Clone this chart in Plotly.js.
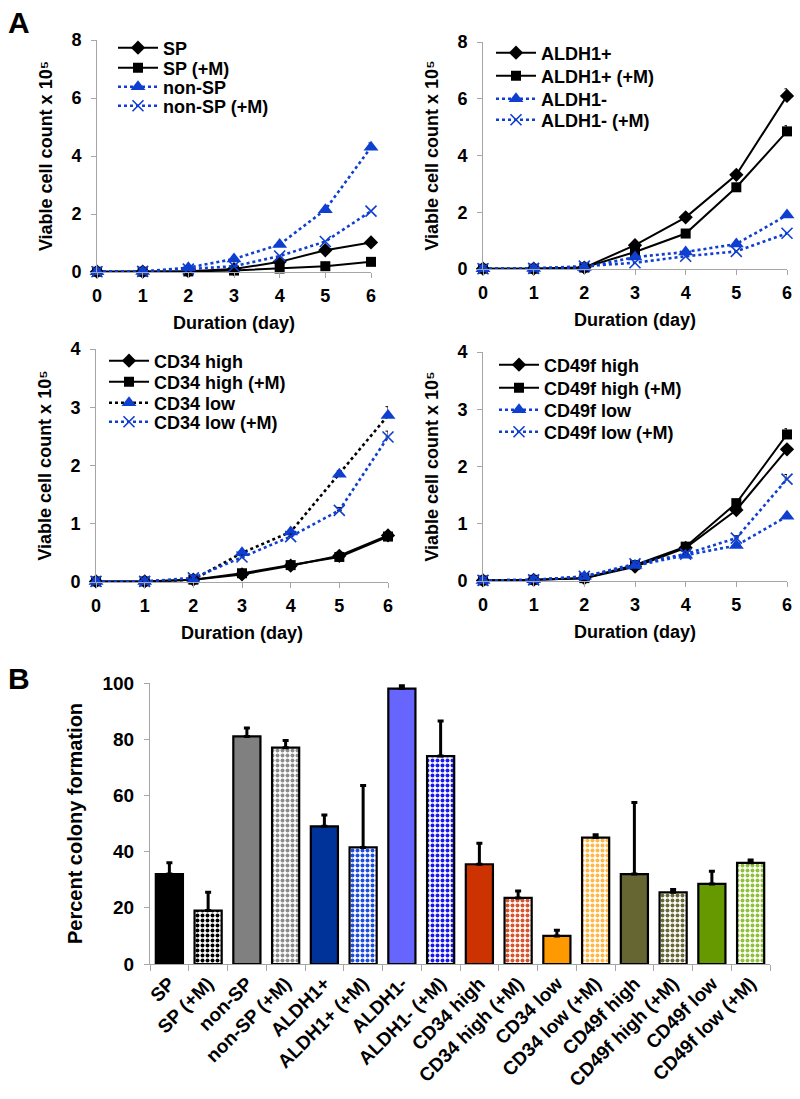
<!DOCTYPE html>
<html>
<head>
<meta charset="utf-8">
<script src="https://cdn.plot.ly/plotly-3.0.1.min.js"></script>
<style>html,body{margin:0;padding:0;background:#fff;}#chart{width:800px;height:1099px;}</style>
</head>
<body>
<div id="chart"></div>
<script>
// ---------- data ----------
const days = [0, 1, 2, 3, 4, 5, 6];

// Panel A1
const SP        = [0.01, 0.01, 0.03, 0.10, 0.35, 0.75, 1.02];
const SP_M      = [0.01, 0.01, 0.02, 0.05, 0.12, 0.20, 0.35];
const nonSP     = [0.01, 0.02, 0.15, 0.45, 0.95, 2.15, 4.30];
const nonSP_M   = [0.01, 0.02, 0.10, 0.20, 0.55, 1.05, 2.10];
const nonSP_err = [0, 0, 0, 0, 0.03, 0.05, 0.15];

// Panel A2
const ALDH1p      = [0.01, 0.01, 0.05, 0.84, 1.82, 3.32, 6.10];
const ALDH1p_M    = [0.01, 0.01, 0.05, 0.60, 1.25, 2.88, 4.85];
const ALDH1n      = [0.01, 0.02, 0.05, 0.42, 0.60, 0.88, 1.90];
const ALDH1n_M    = [0.01, 0.02, 0.10, 0.22, 0.45, 0.62, 1.26];
const ALDH1p_err  = [0, 0, 0, 0.03, 0.05, 0.08, 0.25];
const ALDH1pM_err = [0, 0, 0, 0.03, 0.05, 0.08, 0.20];

// Panel A3
const CD34h      = [0.01, 0.01, 0.04, 0.13, 0.28, 0.45, 0.80];
const CD34h_M    = [0.01, 0.01, 0.04, 0.15, 0.29, 0.43, 0.78];
const CD34l      = [0.01, 0.01, 0.04, 0.50, 0.86, 1.85, 2.86];
const CD34l_M    = [0.01, 0.01, 0.07, 0.43, 0.78, 1.23, 2.49];
const CD34l_err  = [0, 0, 0, 0.03, 0.04, 0.06, 0.15];
const CD34lM_err = [0, 0, 0, 0.03, 0.04, 0.05, 0.10];

// Panel A4
const CD49h      = [0.01, 0.02, 0.05, 0.25, 0.58, 1.24, 2.30];
const CD49h_M    = [0.01, 0.02, 0.05, 0.28, 0.60, 1.36, 2.56];
const CD49l      = [0.01, 0.02, 0.08, 0.27, 0.45, 0.62, 1.13];
const CD49l_M    = [0.01, 0.02, 0.08, 0.30, 0.47, 0.75, 1.78];
const CD49hM_err = [0, 0, 0, 0.02, 0.03, 0.05, 0.10];
const CD49lM_err = [0, 0, 0, 0.02, 0.03, 0.04, 0.08];

// Panel B
const barCats = ['SP', 'SP (+M)', 'non-SP', 'non-SP (+M)', 'ALDH1+', 'ALDH1+ (+M)', 'ALDH1-', 'ALDH1- (+M)',
                 'CD34 high', 'CD34 high (+M)', 'CD34 low', 'CD34 low (+M)', 'CD49f high', 'CD49f high (+M)',
                 'CD49f low', 'CD49f low (+M)'];
const barVals = [32, 19, 81, 77, 49, 41.5, 98, 74, 35.5, 23.5, 10, 45, 32, 25.5, 28.5, 36];
const barErrs = [4, 6.5, 3, 2.5, 4, 22, 1, 12.5, 7.5, 2.5, 2, 1, 25.5, 1, 4.5, 1];
const barColors = ['#000000', '#000000', '#808080', '#8c8c8c', '#003399', '#1f4fe0', '#6666ff', '#1a1aee',
                   '#cc3300', '#d9532c', '#ff9900', '#ffb848', '#666633', '#6b6b3a', '#669900', '#8fc13a'];
const barChecked = [false, true, false, true, false, true, false, true, false, true, false, true, false, true, false, true];

// ---------- styles ----------
const FF = 'Liberation Sans, Arial, sans-serif';
const BLUE = '#0f3fd0';
const W = 800, H = 1099;
const xd = (a, b) => [a / W, b / W];
const yd = (top, bottom) => [1 - bottom / H, 1 - top / H];

function line(x, y, name, opts) {
  const t = {
    x: x, y: y, name: name, type: 'scatter', mode: 'lines+markers', cliponaxis: false,
    xaxis: opts.xa, yaxis: opts.ya, legend: opts.lg,
    line: {color: opts.lc, width: opts.dash ? 2.6 : 2, dash: opts.dash ? 'dot' : 'solid'},
    marker: {symbol: opts.sym, size: opts.size, color: opts.mc,
             line: {color: opts.mc, width: opts.sym === 'x-thin' ? 1.6 : 0}}
  };
  if (opts.err) {
    t.error_y = {type: 'data', array: opts.err, symmetric: false, arrayminus: opts.err.map(() => 0),
                 color: '#000', thickness: 1, width: 2.5};
  }
  return t;
}
const base = {
  diamond: {lc: '#000', mc: '#000', sym: 'diamond', size: 11},
  square:  {lc: '#000', mc: '#000', sym: 'square', size: 10},
  tri:     {lc: BLUE, mc: BLUE, sym: 'triangle-up', size: 13, dash: true},
  cross:   {lc: BLUE, mc: BLUE, sym: 'x-thin', size: 11, dash: true}
};
let legN = 0;
function st(kind, xa, ya, extra) {
  legN += 1;
  return Object.assign({}, base[kind], {xa: xa, ya: ya, lg: legN === 1 ? 'legend' : 'legend' + legN}, extra || {});
}

const traces = [
  line(days, SP, 'SP', st('diamond', 'x', 'y')),
  line(days, SP_M, 'SP (+M)', st('square', 'x', 'y')),
  line(days, nonSP, 'non-SP', st('tri', 'x', 'y', {err: nonSP_err})),
  line(days, nonSP_M, 'non-SP (+M)', st('cross', 'x', 'y')),

  line(days, ALDH1p, 'ALDH1+', st('diamond', 'x2', 'y2', {err: ALDH1p_err})),
  line(days, ALDH1p_M, 'ALDH1+ (+M)', st('square', 'x2', 'y2', {err: ALDH1pM_err})),
  line(days, ALDH1n, 'ALDH1-', st('tri', 'x2', 'y2')),
  line(days, ALDH1n_M, 'ALDH1- (+M)', st('cross', 'x2', 'y2')),

  line(days, CD34h, 'CD34 high', st('diamond', 'x3', 'y3')),
  line(days, CD34h_M, 'CD34 high (+M)', st('square', 'x3', 'y3')),
  line(days, CD34l, 'CD34 low', st('tri', 'x3', 'y3', {lc: '#000', err: CD34l_err})),
  line(days, CD34l_M, 'CD34 low (+M)', st('cross', 'x3', 'y3', {err: CD34lM_err})),

  line(days, CD49h, 'CD49f high', st('diamond', 'x4', 'y4')),
  line(days, CD49h_M, 'CD49f high (+M)', st('square', 'x4', 'y4', {err: CD49hM_err})),
  line(days, CD49l, 'CD49f low', st('tri', 'x4', 'y4')),
  line(days, CD49l_M, 'CD49f low (+M)', st('cross', 'x4', 'y4', {err: CD49lM_err}))
];

// bars: solid ones and checkered ones as two overlaid traces on the same category axis
const pick = (arr, want) => arr.filter((v, i) => barChecked[i] === want);
traces.push({
  type: 'bar', x: pick(barCats, false), y: pick(barVals, false), xaxis: 'x5', yaxis: 'y5', showlegend: false,
  marker: {color: pick(barColors, false), line: {color: '#000', width: 2.2}},
  error_y: {type: 'data', array: pick(barErrs, false), symmetric: false, arrayminus: pick(barErrs, false).map(() => 0),
            color: '#000', thickness: 3, width: 3}
});
traces.push({
  type: 'bar', x: pick(barCats, true), y: pick(barVals, true), xaxis: 'x5', yaxis: 'y5', showlegend: false,
  marker: {color: '#ffffff', line: {color: '#000', width: 2.2},
           pattern: {shape: '.', fgcolor: pick(barColors, true), bgcolor: '#ffffff', fgopacity: 1,
                     size: 5, solidity: 0.5, fillmode: 'overlay'}},
  error_y: {type: 'data', array: pick(barErrs, true), symmetric: false, arrayminus: pick(barErrs, true).map(() => 0),
            color: '#000', thickness: 3, width: 3}
});

const tickF = {family: FF, size: 18, color: '#000', weight: 'bold'};
const titleF = {family: FF, size: 18, color: '#000', weight: 'bold'};
const legF = {family: FF, size: 18, color: '#000', weight: 'bold'};

function xax(dom, anchor) {
  return {domain: dom, anchor: anchor, range: [0, 6], tickvals: days, showline: true, linecolor: '#a6a6a6',
          linewidth: 1, ticks: 'outside', ticklen: 5, tickcolor: '#a6a6a6', showgrid: false, zeroline: false,
          tickfont: tickF, fixedrange: true, ticklabelstandoff: 2,
          title: {text: 'Duration (day)', font: titleF, standoff: 11}};
}
function yax(dom, anchor, max, dt) {
  return {domain: dom, anchor: anchor, range: [0, max], dtick: dt, showline: true, linecolor: '#a6a6a6',
          linewidth: 1, ticks: 'outside', ticklen: 5, tickcolor: '#a6a6a6', showgrid: false, zeroline: false,
          tickfont: tickF, fixedrange: true, ticklabelstandoff: 6,
          title: {text: 'Viable cell count x 10\u2075', font: titleF, standoff: 14}};
}

// legend rows: [x of line start, row centre y]
const legRows = [
  [119, 48], [119, 68], [119, 87], [119, 106],
  [497, 53], [497, 76], [497, 99], [497, 120],
  [110, 361], [110, 382], [110, 403], [110, 422],
  [500, 365], [500, 388], [500, 410], [500, 432]
];

const layout = {
  width: W, height: H, margin: {l: 0, r: 0, t: 0, b: 0},
  paper_bgcolor: '#fff', plot_bgcolor: '#fff', showlegend: true, barmode: 'overlay',
  xaxis: xax(xd(97, 371), 'y'),
  yaxis: yax(yd(40, 272), 'x', 8, 2),
  xaxis2: xax(xd(483, 787), 'y2'),
  yaxis2: yax(yd(42, 269), 'x2', 8, 2),
  xaxis3: xax(xd(96, 388), 'y3'),
  yaxis3: yax(yd(349, 582), 'x3', 4, 1),
  xaxis4: xax(xd(483, 787), 'y4'),
  yaxis4: yax(yd(352, 581), 'x4', 4, 1),
  xaxis5: {domain: xd(150, 770), anchor: 'y5', type: 'category', categoryorder: 'array', categoryarray: barCats,
           showline: true, linecolor: '#a6a6a6',
           linewidth: 1, ticks: 'outside', ticklen: 6, tickcolor: '#a6a6a6', tickson: 'boundaries',
           tickangle: -45, tickfont: Object.assign({}, tickF, {size: 19}), showgrid: false, zeroline: false, fixedrange: true},
  yaxis5: {domain: yd(683, 964), anchor: 'x5', range: [0, 100], dtick: 20, showline: true, linecolor: '#a6a6a6',
           linewidth: 1, ticks: 'outside', ticklen: 5, tickcolor: '#a6a6a6', showgrid: false, zeroline: false,
           tickfont: Object.assign({}, tickF, {size: 19}), fixedrange: true, ticklabelstandoff: 6,
           title: {text: 'Percent colony formation', font: {family: FF, size: 20, color: '#000', weight: 'bold'}, standoff: 14}},
  bargap: 0.3,
  annotations: [
    {text: 'A', x: 6 / W, y: 1 - 4 / H, xref: 'paper', yref: 'paper', xanchor: 'left', yanchor: 'top',
     showarrow: false, font: {family: FF, size: 30, color: '#000', weight: 'bold'}},
    {text: 'B', x: 6 / W, y: 1 - 660 / H, xref: 'paper', yref: 'paper', xanchor: 'left', yanchor: 'top',
     showarrow: false, font: {family: FF, size: 30, color: '#000', weight: 'bold'}}
  ]
};
legRows.forEach((r, i) => {
  const key = i === 0 ? 'legend' : 'legend' + (i + 1);
  layout[key] = {x: (r[0] - 6) / W, y: 1 - r[1] / H, xanchor: 'left', yanchor: 'middle',
                 bgcolor: 'rgba(0,0,0,0)', font: legF, itemwidth: 40, tracegroupgap: 0};
});

Plotly.newPlot('chart', traces, layout, {displayModeBar: false, staticPlot: true});
</script>
</body>
</html>
